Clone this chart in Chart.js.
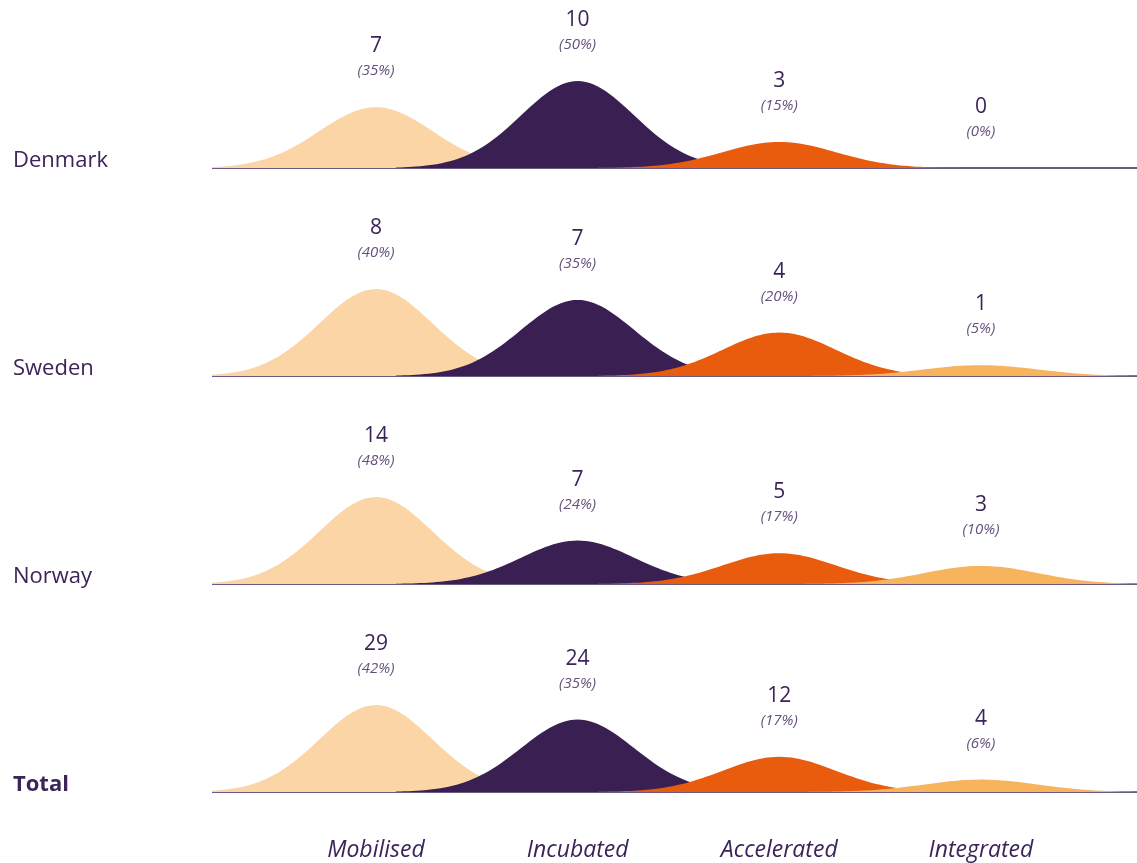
<!DOCTYPE html>
<html>
<head>
<meta charset="utf-8">
<script src="https://cdn.jsdelivr.net/npm/chart.js@4"></script>
<style>
  body { margin: 0; background: #fff; }
  #wrap { width: 1137px; height: 863px; }
</style>
</head>
<body>
<div id="wrap"><canvas id="ridge"></canvas></div>
<script>
const categories = ["Mobilised", "Incubated", "Accelerated", "Integrated"];
const countries = ["Denmark", "Sweden", "Norway", "Total"];
const denmarkCounts = [7, 10, 3, 0];
const swedenCounts = [8, 7, 4, 1];
const norwayCounts = [14, 7, 5, 3];
const totalCounts = [29, 24, 12, 4];
const denmarkPct = [35, 50, 15, 0];
const swedenPct = [40, 35, 20, 5];
const norwayPct = [48, 24, 17, 10];
const totalPct = [42, 35, 17, 6];

const counts = [denmarkCounts, swedenCounts, norwayCounts, totalCounts];
const pcts = [denmarkPct, swedenPct, norwayPct, totalPct];
const colors = ["#FCD5A6", "#3A2052", "#E95C0D", "#F7B45C"];
const textColor = "#3A2458";
const FONT = "'Open Sans', 'Noto Sans', sans-serif";

// row baselines, top row highest
const rowBase = [3, 2, 1, 0];
const PEAK = 0.418;   // height of tallest curve in a row
const SIGMA = 0.28;
const X_MIN = -0.813, X_MAX = 3.774;

// bell shaped outline for one curve, scaled to the row max
function bellPoints(center, base, height) {
    const pts = [];
    const from = Math.max(X_MIN, center - 0.9);
    const to = Math.min(X_MAX, center + 0.9);
    const n = 90;
    for (let k = 0; k <= n; k++) {
        const x = from + (to - from) * k / n;
        const d = (x - center) / SIGMA;
        pts.push({ x: x, y: base + height * Math.exp(-0.5 * d * d) });
    }
    return pts;
}

const datasets = [];
countries.forEach((name, r) => {
    const rowMax = Math.max(...pcts[r]);
    // axis line under the curves
    datasets.push({
        data: [{ x: X_MIN, y: rowBase[r] }, { x: X_MAX, y: rowBase[r] }],
        borderColor: textColor,
        borderWidth: 1.5,
        pointRadius: 0,
        fill: false,
        order: 10,
    });
    categories.forEach((cat, c) => {
        const h = rowMax > 0 ? PEAK * pcts[r][c] / rowMax : 0;
        datasets.push({
            data: bellPoints(c, rowBase[r], h),
            borderWidth: 0,
            borderColor: colors[c],
            backgroundColor: colors[c],
            pointRadius: 0,
            tension: 0,
            fill: { value: rowBase[r] },
            order: 3 - c,
            rowIdx: r,
            catIdx: c,
            peak: rowBase[r] + h,
        });
    });
});

const valueLabels = {
    id: "valueLabels",
    afterDatasetsDraw(chart) {
        const ctx = chart.ctx;
        const xs = chart.scales.x, ys = chart.scales.y;
        ctx.save();
        ctx.textAlign = "center";
        ctx.textBaseline = "middle";
        chart.data.datasets.forEach((ds) => {
            if (ds.catIdx === undefined) return;
            const px = xs.getPixelForValue(ds.catIdx);
            const py = ys.getPixelForValue(ds.peak);
            ctx.fillStyle = textColor;
            ctx.font = "21px " + FONT;
            ctx.fillText(String(counts[ds.rowIdx][ds.catIdx]), px, py - 61);
            ctx.fillStyle = "#63527B";
            ctx.font = "italic 15px " + FONT;
            ctx.fillText("(" + pcts[ds.rowIdx][ds.catIdx] + "%)", px, py - 36);
        });
        ctx.restore();
    },
};

new Chart(document.getElementById("ridge"), {
    type: "line",
    data: { datasets: datasets },
    options: {
        responsive: true,
        maintainAspectRatio: false,
        animation: false,
        layout: { padding: { left: 13, right: 0, top: 0, bottom: 0 } },
        plugins: {
            legend: { display: false },
            tooltip: { enabled: false },
        },
        scales: {
            x: {
                type: "linear",
                min: X_MIN,
                max: X_MAX,
                grid: { display: false },
                border: { display: false },
                afterBuildTicks: (scale) => {
                    scale.ticks = categories.map((c, i) => ({ value: i }));
                },
                afterFit: (scale) => {
                    scale.height = 43;
                    scale.paddingLeft = 0;
                    scale.paddingRight = 0;
                },
                ticks: {
                    padding: 9,
                    maxRotation: 0,
                    autoSkip: false,
                    color: textColor,
                    font: { family: FONT, size: 23, style: "italic" },
                    callback: (v, i) => categories[i],
                },
            },
            y: {
                type: "linear",
                min: -0.1346,
                max: 3.8077,
                grid: { display: false },
                border: { display: false },
                afterBuildTicks: (scale) => {
                    scale.ticks = countries.map((c, i) => ({ value: rowBase[i] + 0.034 }));
                },
                afterFit: (scale) => {
                    scale.width = 199;
                    scale.paddingTop = 0;
                    scale.paddingBottom = 0;
                },
                ticks: {
                    crossAlign: "far",
                    padding: 0,
                    color: textColor,
                    font: (ctx) => ({
                        family: FONT,
                        size: 22,
                        weight: ctx.index === 3 ? "bold" : "normal",
                    }),
                    callback: (v, i) => countries[i],
                },
            },
        },
    },
    plugins: [valueLabels],
});
</script>
</body>
</html>
